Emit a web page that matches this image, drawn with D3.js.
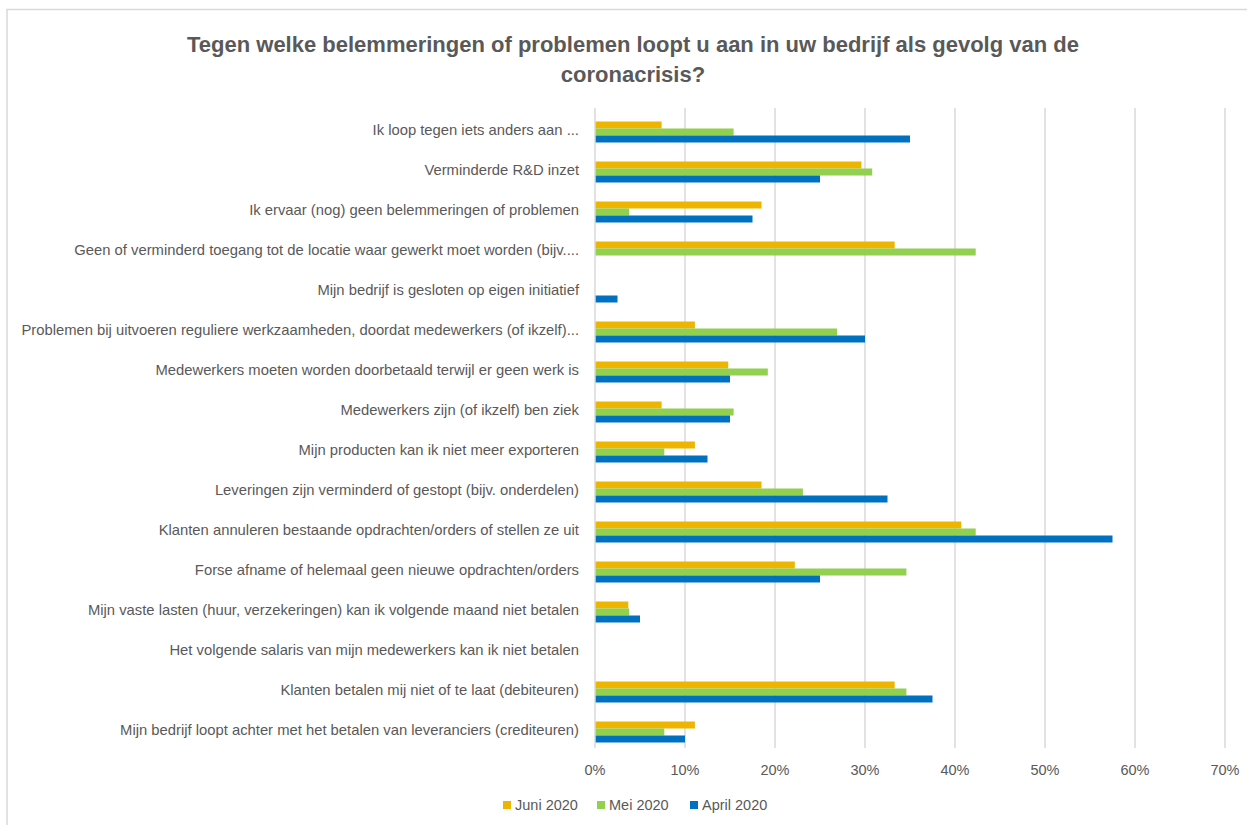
<!DOCTYPE html>
<html>
<head>
<meta charset="utf-8">
<script src="https://cdn.jsdelivr.net/npm/d3@7"></script>
<style>
  body { margin: 0; background: #fff; }
  svg text { font-family: 'Liberation Sans', Arial, sans-serif; fill: #595959; }
</style>
</head>
<body>
<svg id="svg" width="1247" height="825"></svg>
<script>
const categories = [
    'Ik loop tegen iets anders aan ...',
    'Verminderde R&D inzet',
    'Ik ervaar (nog) geen belemmeringen of problemen',
    'Geen of verminderd toegang tot de locatie waar gewerkt moet worden (bijv....',
    'Mijn bedrijf is gesloten op eigen initiatief',
    'Problemen bij uitvoeren reguliere werkzaamheden, doordat medewerkers (of ikzelf)...',
    'Medewerkers moeten worden doorbetaald terwijl er geen werk is',
    'Medewerkers zijn (of ikzelf) ben ziek',
    'Mijn producten kan ik niet meer exporteren',
    'Leveringen zijn verminderd of gestopt (bijv. onderdelen)',
    'Klanten annuleren bestaande opdrachten/orders of stellen ze uit',
    'Forse afname of helemaal geen nieuwe opdrachten/orders',
    'Mijn vaste lasten (huur, verzekeringen) kan ik volgende maand niet betalen',
    'Het volgende salaris van mijn medewerkers kan ik niet betalen',
    'Klanten betalen mij niet of te laat (debiteuren)',
    'Mijn bedrijf loopt achter met het betalen van leveranciers (crediteuren)'
]

// percentages per series, same order as categories
const juni2020 = [7.4, 29.6, 18.5, 33.3, 0, 11.1, 14.8, 7.4, 11.1, 18.5, 40.7, 22.2, 3.7, 0, 33.3, 11.1]
const mei2020 = [15.4, 30.8, 3.8, 42.3, 0, 26.9, 19.2, 15.4, 7.7, 23.1, 42.3, 34.6, 3.8, 0, 34.6, 7.7]
const april2020 = [35.0, 25.0, 17.5, 0, 2.5, 30.0, 15.0, 15.0, 12.5, 32.5, 57.5, 25.0, 5.0, 0, 37.5, 10.0]

const seriesNames = ['Juni 2020', 'Mei 2020', 'April 2020']
const seriesColors = ['#EDB500', '#92D050', '#0070C0']
const xTicks = [0, 10, 20, 30, 40, 50, 60, 70]

const title = [
    'Tegen welke belemmeringen of problemen loopt u aan in uw bedrijf als gevolg van de',
    'coronacrisis?'
]

const series = [juni2020, mei2020, april2020]
const rows = categories.map((c, i) => ({
    name: c,
    values: seriesNames.map((s, j) => ({ series: s, value: series[j][i] }))
}))

const svg = d3.select('#svg')

// chart frame
svg.append('rect')
    .attr('x', 7)
    .attr('y', 9.5)
    .attr('width', 1260)
    .attr('height', 840)
    .attr('fill', 'none')
    .attr('stroke', '#d9d9d9')
    .attr('stroke-width', 1.5)

svg.append('g')
    .selectAll('text')
    .data(title)
    .enter()
    .append('text')
    .attr('x', 633)
    .attr('y', (d, i) => 52 + i * 30)
    .attr('text-anchor', 'middle')
    .style('font-size', '22px')
    .style('font-weight', 'bold')
    .text(d => d)

const plotTop = 108
const plotBottom = 748

const x = d3.scaleLinear()
    .domain([0, 70])
    .range([595, 1225])

const y = d3.scaleBand()
    .domain(categories)
    .range([plotTop + 4, plotBottom + 4])

const ySeries = d3.scaleBand()
    .domain(seriesNames)
    .range([0, 21])

const color = d3.scaleOrdinal()
    .domain(seriesNames)
    .range(seriesColors)

// gridlines
svg.append('g')
    .selectAll('line')
    .data(xTicks.slice(1))
    .enter()
    .append('line')
    .attr('x1', d => x(d))
    .attr('x2', d => x(d))
    .attr('y1', plotTop)
    .attr('y2', plotBottom)
    .attr('stroke', '#d9d9d9')
    .attr('stroke-width', 1.5)

// bars
const group = svg.append('g')
    .selectAll('g')
    .data(rows)
    .enter()
    .append('g')
    .attr('transform', d => `translate(0, ${y(d.name) + (y.bandwidth() - 21) / 2})`)

group.selectAll('rect')
    .data(d => d.values.filter(v => v.value > 0))
    .enter()
    .append('rect')
    .attr('x', x(0))
    .attr('y', d => ySeries(d.series))
    .attr('width', d => x(d.value) - x(0))
    .attr('height', ySeries.bandwidth())
    .attr('fill', d => color(d.series))

// category axis line
svg.append('line')
    .attr('x1', x(0))
    .attr('x2', x(0))
    .attr('y1', plotTop)
    .attr('y2', plotBottom)
    .attr('stroke', '#d9d9d9')
    .attr('stroke-width', 1.5)

// category labels
svg.append('g')
    .selectAll('text')
    .data(categories)
    .enter()
    .append('text')
    .attr('x', 579)
    .attr('y', d => y(d) + y.bandwidth() / 2 - 2)
    .attr('dy', '0.35em')
    .attr('text-anchor', 'end')
    .style('font-size', '14.8px')
    .text(d => d)

// x tick labels
svg.append('g')
    .selectAll('text')
    .data(xTicks)
    .enter()
    .append('text')
    .attr('x', d => x(d))
    .attr('y', 770)
    .attr('dy', '0.35em')
    .attr('text-anchor', 'middle')
    .style('font-size', '14.5px')
    .text(d => d + '%')

// legend
const legendX = [503, 597, 690]
const legend = svg.append('g')
    .selectAll('g')
    .data(seriesNames)
    .enter()
    .append('g')
    .attr('transform', (d, i) => `translate(${legendX[i]}, 801)`)

legend.append('rect')
    .attr('width', 8)
    .attr('height', 8)
    .attr('fill', d => color(d))

legend.append('text')
    .attr('x', 12)
    .attr('y', 4)
    .attr('dy', '0.35em')
    .style('font-size', '14.5px')
    .text(d => d)
</script>
</body>
</html>
